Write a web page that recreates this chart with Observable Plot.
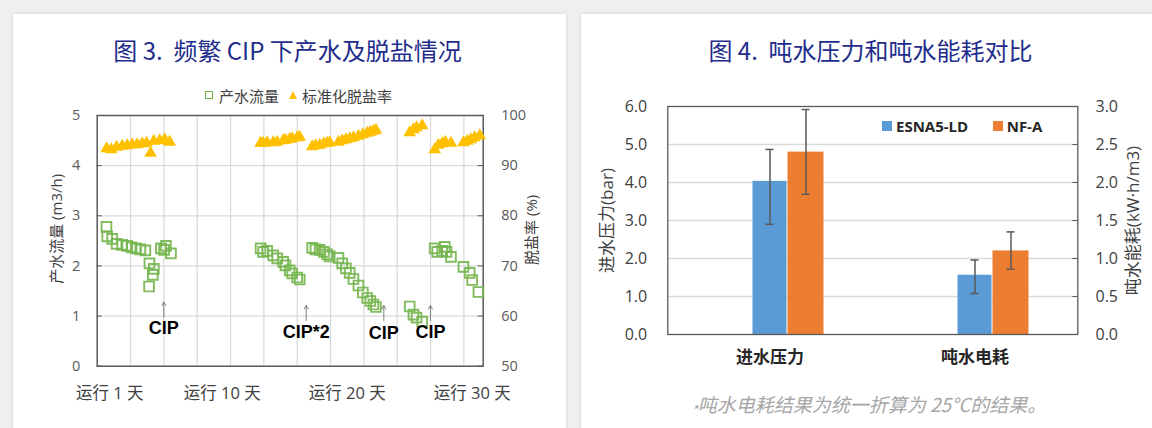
<!DOCTYPE html>
<html lang="zh">
<head>
<meta charset="utf-8">
<script src="https://cdn.jsdelivr.net/npm/d3@7"></script>
<script src="https://cdn.jsdelivr.net/npm/@observablehq/plot@0.6"></script>
<style>
html,body{margin:0;padding:0;}
body{width:1152px;height:428px;background:#efefef;position:relative;overflow:hidden;font-family:"Noto Sans CJK SC","Noto Sans",sans-serif;}
.card{position:absolute;background:#fff;box-shadow:0 0 4px rgba(0,0,0,0.10);}
.t{position:absolute;white-space:nowrap;line-height:1;transform:translateY(-50%);}
.c{transform:translate(-50%,-50%);}
.title{font-size:24px;color:#1f2d8c;font-weight:400;}
.leg{font-size:15px;color:#404040;}
.leg2{font-size:15px;color:#262626;font-weight:bold;font-family:"Open Sans","Noto Sans CJK SC",sans-serif;}
.chart{position:absolute;top:0;}
.cap{font-size:19px;font-style:italic;color:#a6a6a6;}
</style>
</head>
<body>
<div class="card" style="left:13px;top:14px;width:553px;height:430px"></div>
<div class="card" style="left:581px;top:14px;width:590px;height:430px"></div>
<div id="left" class="chart" style="left:0px"></div>
<div id="right" class="chart" style="left:576px"></div>

<div class="t c title" style="left:287.5px;top:50px">图 3.&nbsp; 频繁 CIP 下产水及脱盐情况</div>
<div class="t c title" style="left:870.5px;top:50px">图 4.&nbsp; 吨水压力和吨水能耗对比</div>

<span class="t" style="left:205px;top:95px;width:6px;height:6px;border:1.5px solid #70ad47;"></span>
<span class="t leg" style="left:219px;top:95px">产水流量</span>
<span class="t" style="left:288.5px;top:95px;width:0;height:0;border-left:4.5px solid transparent;border-right:4.5px solid transparent;border-bottom:8px solid #ffc000;"></span>
<span class="t leg" style="left:302px;top:95px">标准化脱盐率</span>

<span class="t" style="left:881.7px;top:125.7px;width:10px;height:10px;background:#5b9bd5;"></span>
<span class="t leg2" style="left:896px;top:125.5px">ESNA5-LD</span>
<span class="t" style="left:992.7px;top:125.7px;width:10px;height:10px;background:#ed7d31;"></span>
<span class="t leg2" style="left:1006.7px;top:125.5px">NF-A</span>

<div class="t c cap" style="left:869px;top:403px"><span style="font-size:13px;position:relative;top:3px;">*</span>吨水电耗结果为统一折算为 25°C的结果。</div>

<script>
// ---------- Figure 3 data ----------
const flowDay = [0.74,0.8,1.2,1.55,2.0,2.4,2.75,3.1,3.45,3.85,4.18,4.53,4.45,4.15,5.1,5.35,5.5,5.9,
  13.07,13.28,13.6,14.08,14.4,14.88,15.06,15.4,15.6,16.0,16.2,
  17.2,17.46,17.8,18.13,18.4,18.6,19.3,19.6,19.9,20.2,20.5,20.9,21.25,21.6,21.85,22.1,22.3,
  25.0,25.3,25.55,26.0,
  27.0,27.2,27.6,27.8,27.95,28.3,29.3,29.8,30.0,30.5];
const flowRate = [2.78,2.59,2.54,2.44,2.42,2.40,2.37,2.35,2.33,2.31,2.05,1.94,1.82,1.59,2.35,2.32,2.40,2.25,
  2.35,2.28,2.30,2.21,2.15,2.08,2.01,1.91,1.85,1.77,1.73,
  2.36,2.33,2.32,2.28,2.23,2.19,2.16,2.05,1.95,1.86,1.74,1.61,1.47,1.36,1.30,1.23,1.18,
  1.19,1.03,0.97,0.89,
  2.35,2.28,2.30,2.38,2.28,2.18,1.98,1.86,1.72,1.48];
const rejDay = [0.75,1.12,1.55,2.0,2.4,2.8,3.2,3.6,3.95,4.27,4.53,5.0,5.4,5.8,
  13.07,13.28,13.6,14.08,14.4,14.88,15.06,15.4,15.6,16.0,16.2,
  17.2,17.46,17.8,18.13,18.4,18.6,19.3,19.6,19.9,20.2,20.5,20.9,21.25,21.6,21.85,22.1,22.3,
  25.0,25.3,25.55,26.0,
  27.0,27.3,27.6,27.85,28.3,29.3,29.6,29.9,30.2,30.6];
const rejRate = [93.4,93.2,93.7,93.9,94.0,94.2,94.2,94.4,94.5,92.5,94.9,95.0,95.2,94.7,
  94.5,94.5,94.6,94.6,94.7,95.0,95.1,95.3,95.4,95.6,95.7,
  93.8,94.0,94.1,94.4,94.5,94.6,94.7,95.0,95.2,95.4,95.6,95.9,96.2,96.5,96.7,96.9,97.1,
  96.6,97.2,97.6,98.0,
  93.2,94.1,94.4,94.7,94.5,94.6,94.9,95.2,95.6,96.0];
const flowTicks = [0,1,2,3,4,5];
const rejTicks = [50,60,70,80,90,100];
const dayTicks = [1,10,20,30];
const dayLabels = ["运行 1 天","运行 10 天","运行 20 天","运行 30 天"];
const cipDay = [5.33,16.72,22.93,26.66];
const cipText = ["CIP","CIP*2","CIP","CIP"];
const cipFrom = [0.98,0.91,0.91,0.91];
const cipTo = [1.28,1.21,1.21,1.21];
const cipLabelY = [0.75,0.68,0.66,0.67];
const flowTitle = "产水流量 (m3/h)";
const rejTitle = "脱盐率 (%)";

// ---------- Figure 4 data ----------
const categories = ["进水压力","吨水电耗"];
const seriesNames = ["ESNA5-LD","NF-A"];
const onSecondary = [false,true];
const esnaMean = [4.03,0.78];
const esnaLow  = [2.90,0.54];
const esnaHigh = [4.87,0.98];
const nfaMean  = [4.80,1.10];
const nfaLow   = [3.69,0.86];
const nfaHigh  = [5.92,1.35];
const primaryTicks = [0,1,2,3,4,5,6];
const pressureTitle = "进水压力(bar)";
const energyTitle = "吨水能耗(kW·h/m3)";

// ---------- Figure 3 ----------
const flowPts = flowDay.map((d,i)=>({day:d, flow:flowRate[i]}));
const rejPts = rejDay.map((d,i)=>({day:d, rej:rejRate[i]}));
const cip = cipDay.map((d,i)=>({day:d, text:cipText[i], from:cipFrom[i], to:cipTo[i], ly:cipLabelY[i]}));
const dayLab = dayTicks.map((d,i)=>({day:d, label:dayLabels[i]}));
const rejToFlow = r => (r-50)/10;
const sans = "'Open Sans','Noto Sans CJK SC',sans-serif";

const leftChart = Plot.plot({
  width:576, height:428,
  marginLeft:96.7, marginRight:93.3, marginTop:115, marginBottom:62.3,
  style:{background:"transparent", fontFamily:sans, color:"#595959", overflow:"visible"},
  x:{domain:[0,30.88], axis:null},
  y:{domain:[0,5], axis:null},
  marks:[
    Plot.gridX(d3.range(8/3, 30.8, 8/3), {stroke:"#d9d9d9", strokeOpacity:1, strokeWidth:1.2}),
    Plot.gridY([1,2,3,4], {stroke:"#d9d9d9", strokeOpacity:1, strokeWidth:1.2}),
    Plot.tickY(flowTicks, {y:d=>d, insetRight:381, stroke:"#595959"}),
    Plot.tickY(flowTicks, {y:d=>d, insetLeft:381, stroke:"#595959"}),
    Plot.frame({stroke:"#595959", strokeWidth:1.5}),
    Plot.axisY(flowTicks, {anchor:"left", tickSize:0, tickPadding:17, fontSize:14.5, label:null, tickFormat:d=>String(d)}),
    Plot.axisY(rejTicks.map(rejToFlow), {anchor:"right", tickSize:0, tickPadding:18, fontSize:14.5, label:null, tickFormat:(v,i)=>String(rejTicks[i])}),
    Plot.dot(rejPts, {x:"day", y:d=>rejToFlow(d.rej), symbol:"triangle", r:4.7, fill:"#ffc000"}),
    Plot.dot(flowPts, {x:"day", y:"flow", symbol:"square", r:5.5, stroke:"#74b54e", strokeWidth:1.9, fill:"none", strokeOpacity:0.9}),
    Plot.arrow(cip, {x1:"day", x2:"day", y1:"from", y2:"to", stroke:"#7f7f7f", strokeWidth:1, headLength:6}),
    Plot.text(cip, {x:"day", y:"ly", text:"text", fontFamily:"'Liberation Sans',Arial,sans-serif", fontWeight:"bold", fontSize:18, fill:"#000"}),
    Plot.text(dayLab, {x:"day", text:"label", frameAnchor:"bottom", lineAnchor:"middle", textAnchor:"middle", dy:27.3, fontSize:16.5, fill:"#404040"}),
    Plot.text([flowTitle], {text:d=>d, frameAnchor:"left", textAnchor:"middle", lineAnchor:"middle", rotate:-90, dx:-40, dy:-12, fontSize:15, fill:"#404040"}),
    Plot.text([rejTitle], {text:d=>d, frameAnchor:"right", textAnchor:"middle", lineAnchor:"middle", rotate:-90, dx:49, dy:-11, fontSize:15, fill:"#404040"})
  ]
});
document.getElementById("left").append(leftChart);

// ---------- Figure 4 ----------
const ratio = 6/3; // primary axis 0–6 vs secondary axis 0–3
const k = i => onSecondary[i] ? ratio : 1;
const mkRows = (mean, lo, hi, s) => categories.map((c,i)=>({cat:c, series:s, v:mean[i]*k(i), lo:lo[i]*k(i), hi:hi[i]*k(i)}));
const esnaRows = mkRows(esnaMean, esnaLow, esnaHigh, seriesNames[0]);
const nfaRows = mkRows(nfaMean, nfaLow, nfaHigh, seriesNames[1]);
const errStyle = {stroke:"#595959", strokeWidth:1.5};

const rightChart = Plot.plot({
  width:576, height:428,
  marginLeft:91.3, marginRight:74.7, marginTop:106, marginBottom:94,
  style:{background:"transparent", fontFamily:sans, color:"#404040", overflow:"visible"},
  x:{domain:categories, padding:0, axis:null},
  y:{domain:[0,6], axis:null},
  marks:[
    Plot.gridY([1,2,3,4,5], {stroke:"#d9d9d9", strokeOpacity:1, strokeWidth:1.5}),
    Plot.barY(esnaRows, {x:"cat", y:"v", fill:"#5b9bd5", insetLeft:85.5, insetRight:85.5}),
    Plot.barY(nfaRows, {x:"cat", y:"v", fill:"#ed7d31", insetLeft:120.5, insetRight:48.5}),
    Plot.ruleX(esnaRows, {x:"cat", y1:"lo", y2:"hi", ...errStyle}),
    Plot.ruleX(nfaRows, {x:"cat", y1:"lo", y2:"hi", dx:36, ...errStyle}),
    Plot.tickY(esnaRows, {x:"cat", y:"lo", insetLeft:98.5, insetRight:98.5, ...errStyle}),
    Plot.tickY(esnaRows, {x:"cat", y:"hi", insetLeft:98.5, insetRight:98.5, ...errStyle}),
    Plot.tickY(nfaRows, {x:"cat", y:"lo", insetLeft:134.5, insetRight:62.5, ...errStyle}),
    Plot.tickY(nfaRows, {x:"cat", y:"hi", insetLeft:134.5, insetRight:62.5, ...errStyle}),
    Plot.tickY(primaryTicks, {y:d=>d, insetLeft:405, stroke:"#595959"}),
    Plot.frame({stroke:"#595959", strokeWidth:1.3}),
    Plot.axisY(primaryTicks, {anchor:"left", tickSize:0, tickPadding:20.6, fontSize:16, label:null, tickFormat:d=>d.toFixed(1)}),
    Plot.axisY(primaryTicks, {anchor:"right", tickSize:0, tickPadding:17.7, fontSize:16, label:null, tickFormat:d=>(d/ratio).toFixed(1)}),
    Plot.text(categories, {x:d=>d, text:d=>d, frameAnchor:"bottom", lineAnchor:"middle", textAnchor:"middle", dy:22.7, fontWeight:"bold", fontSize:17, fill:"#262626"}),
    Plot.text([pressureTitle], {text:d=>d, frameAnchor:"left", textAnchor:"middle", lineAnchor:"middle", rotate:-90, dx:-60.6, fontSize:17, fill:"#404040"}),
    Plot.text([energyTitle], {text:d=>d, frameAnchor:"right", textAnchor:"middle", lineAnchor:"middle", rotate:-90, dx:56, fontSize:17, fill:"#404040"})
  ]
});
document.getElementById("right").append(rightChart);
</script>
</body>
</html>
